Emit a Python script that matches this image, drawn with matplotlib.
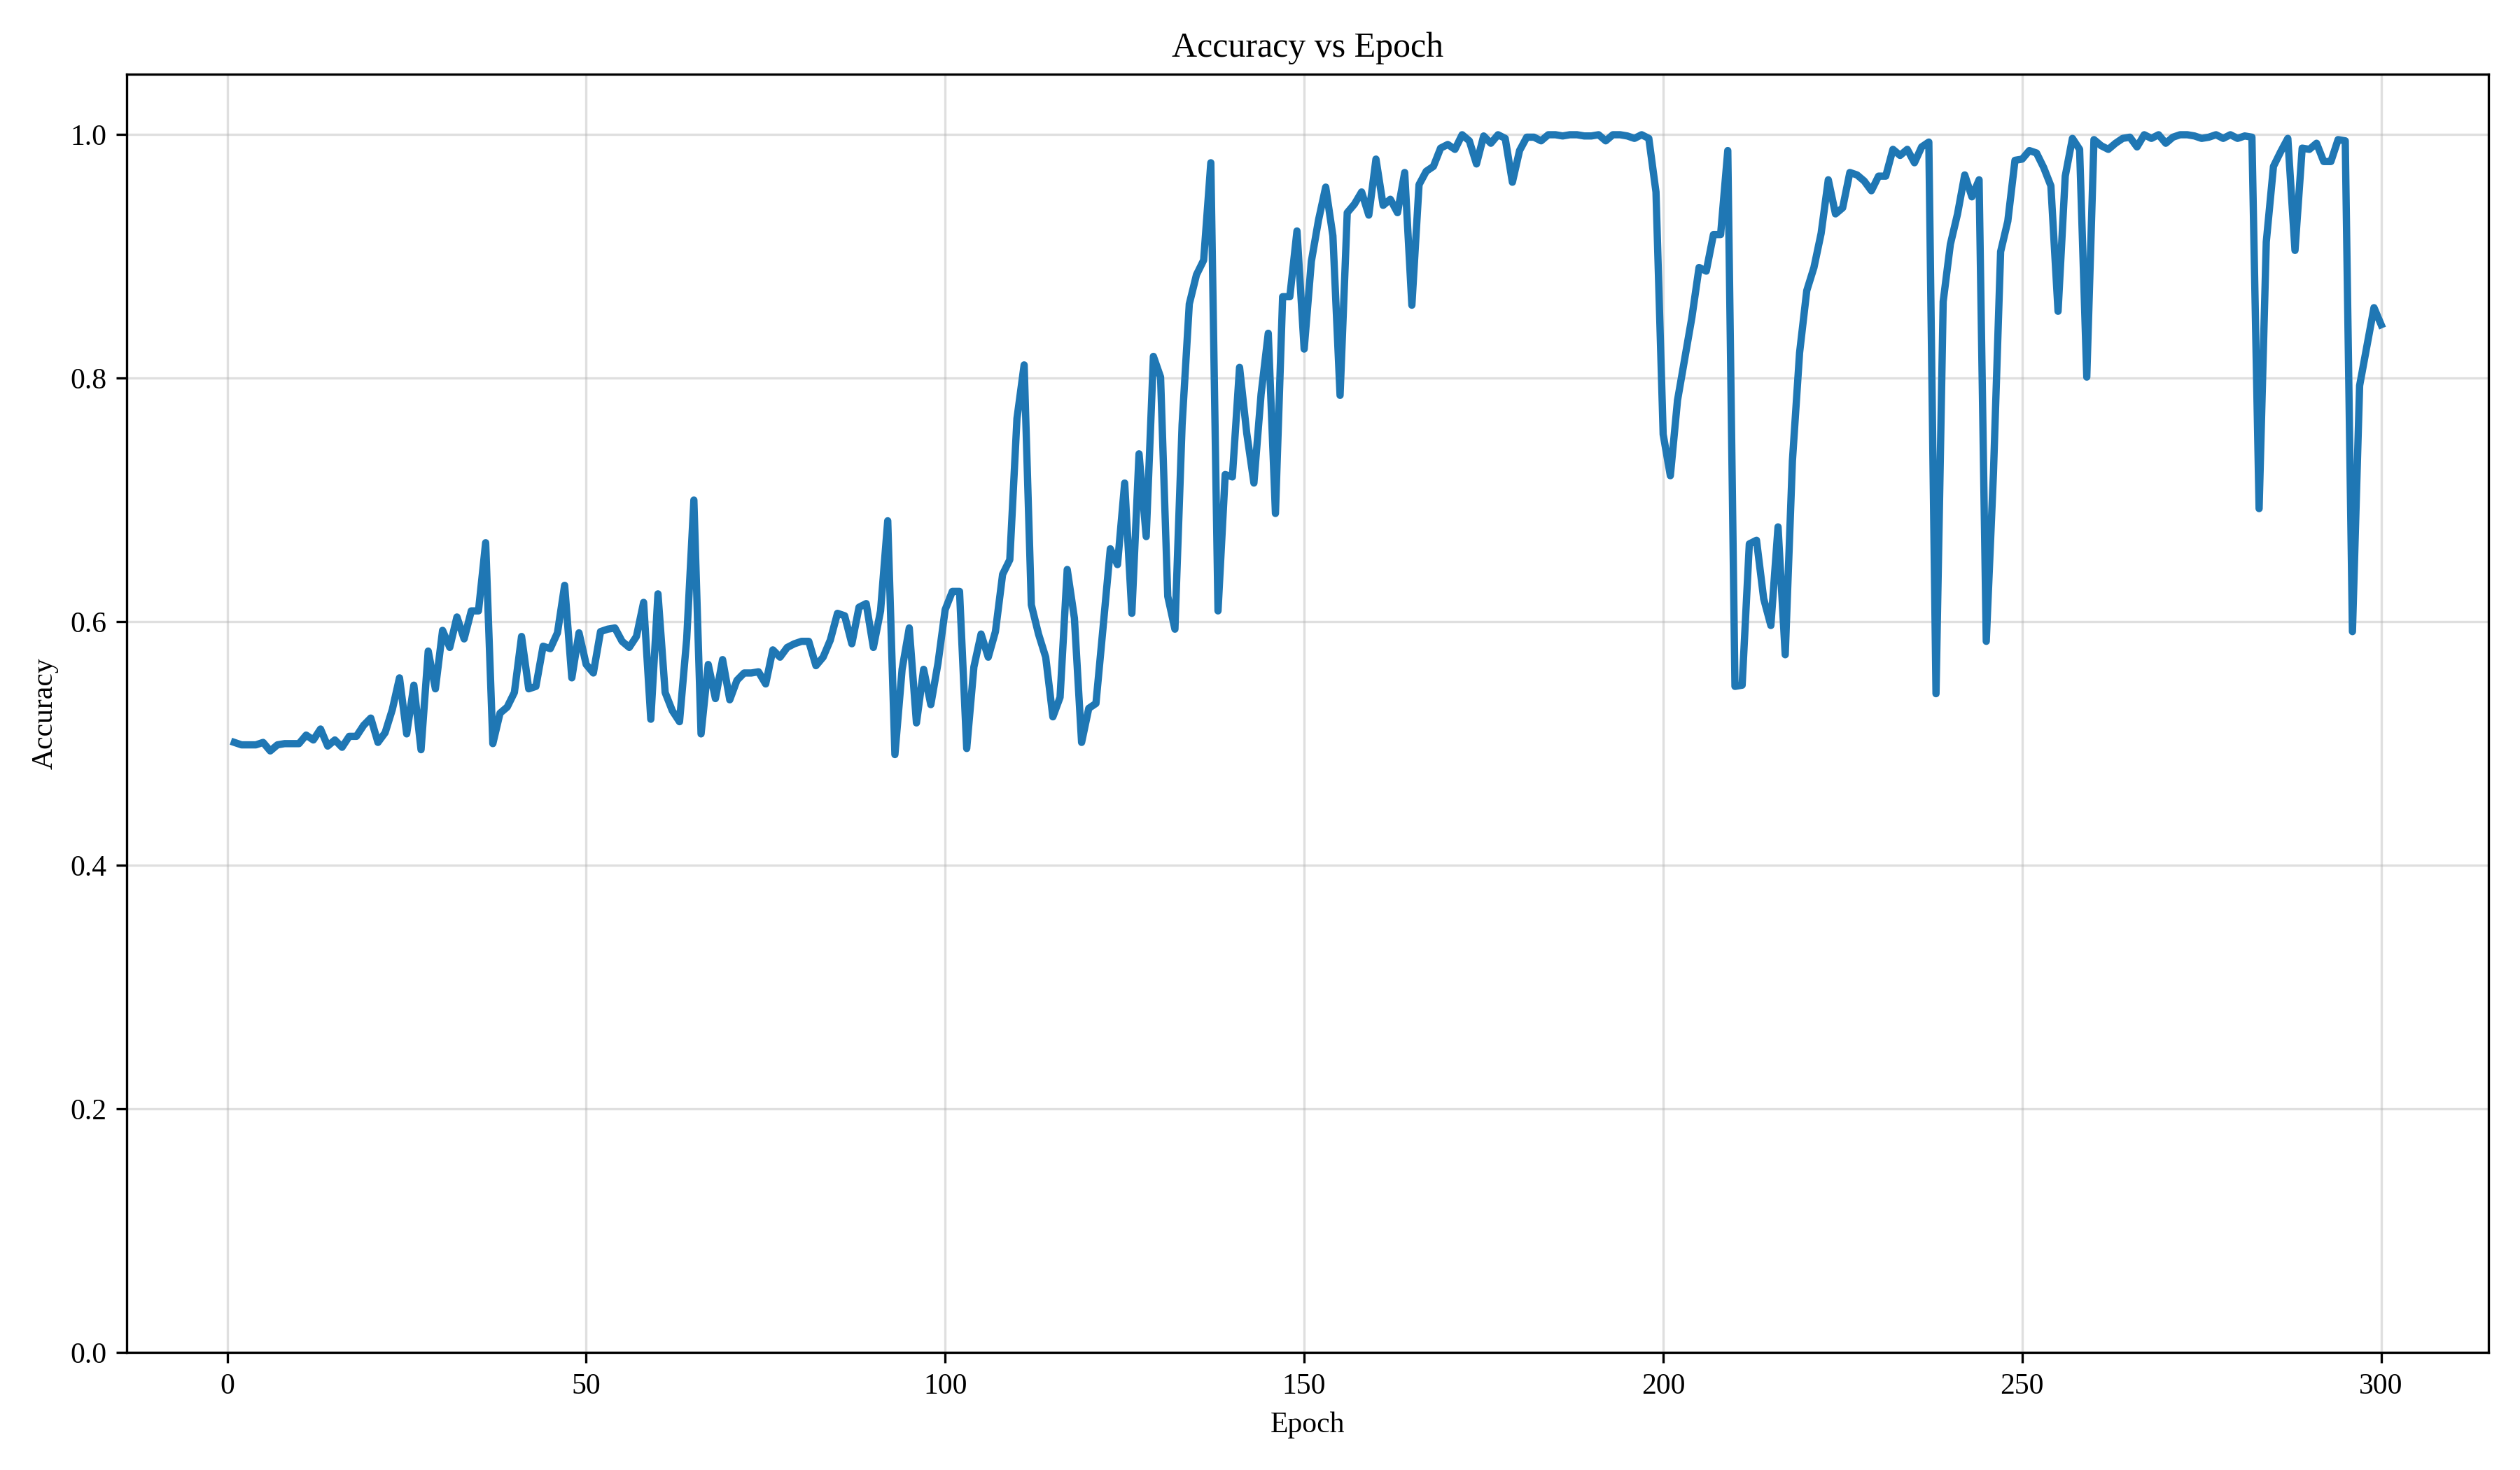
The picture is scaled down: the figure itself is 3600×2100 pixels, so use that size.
import matplotlib
matplotlib.use("Agg")
import matplotlib.pyplot as plt

plt.rcParams['font.family'] = ['Liberation Serif', 'DejaVu Serif']

epochs = list(range(1, 301))
accuracy = [
    0.501, 0.499, 0.499, 0.499, 0.501, 0.494, 0.499, 0.500, 0.500, 0.500,
    0.507, 0.503, 0.512, 0.498, 0.503, 0.497, 0.506, 0.506, 0.515, 0.521,
    0.501, 0.509, 0.528, 0.554, 0.508, 0.548, 0.495, 0.576, 0.545, 0.593,
    0.579, 0.604, 0.586, 0.609, 0.609, 0.665, 0.500, 0.525, 0.530, 0.542,
    0.588, 0.545, 0.547, 0.580, 0.578, 0.591, 0.630, 0.554, 0.591, 0.565,
    0.558, 0.592, 0.594, 0.595, 0.584, 0.579, 0.588, 0.616, 0.520, 0.623,
    0.542, 0.527, 0.518, 0.586, 0.700, 0.508, 0.565, 0.537, 0.569, 0.536,
    0.552, 0.558, 0.558, 0.559, 0.549, 0.577, 0.571, 0.579, 0.582, 0.584,
    0.584, 0.564, 0.571, 0.585, 0.607, 0.605, 0.582, 0.612, 0.615, 0.579,
    0.609, 0.683, 0.491, 0.561, 0.595, 0.517, 0.561, 0.532, 0.566, 0.610,
    0.625, 0.625, 0.496, 0.563, 0.590, 0.571, 0.592, 0.639, 0.651, 0.767,
    0.811, 0.614, 0.590, 0.571, 0.522, 0.538, 0.643, 0.603, 0.501, 0.529,
    0.533, 0.596, 0.660, 0.647, 0.714, 0.607, 0.738, 0.670, 0.818, 0.801,
    0.621, 0.594, 0.762, 0.861, 0.885, 0.897, 0.977, 0.609, 0.721, 0.719,
    0.809, 0.755, 0.714, 0.787, 0.837, 0.689, 0.867, 0.867, 0.921, 0.824,
    0.896, 0.930, 0.957, 0.917, 0.786, 0.936, 0.943, 0.953, 0.934, 0.980,
    0.942, 0.947, 0.936, 0.969, 0.860, 0.959, 0.970, 0.974, 0.989, 0.992,
    0.988, 1.000, 0.995, 0.976, 0.999, 0.993, 1.000, 0.997, 0.961, 0.987,
    0.998, 0.998, 0.995, 1.000, 1.000, 0.999, 1.000, 1.000, 0.999, 0.999,
    1.000, 0.995, 1.000, 1.000, 0.999, 0.997, 1.000, 0.997, 0.953, 0.754,
    0.720, 0.782, 0.816, 0.850, 0.891, 0.888, 0.918, 0.918, 0.987, 0.547,
    0.548, 0.664, 0.667, 0.619, 0.597, 0.678, 0.573, 0.732, 0.821, 0.872,
    0.891, 0.919, 0.963, 0.935, 0.940, 0.969, 0.967, 0.962, 0.954, 0.966,
    0.966, 0.988, 0.983, 0.988, 0.977, 0.990, 0.994, 0.541, 0.863, 0.910,
    0.935, 0.967, 0.949, 0.963, 0.584, 0.722, 0.904, 0.929, 0.979, 0.980,
    0.987, 0.985, 0.973, 0.958, 0.855, 0.966, 0.997, 0.988, 0.801, 0.996,
    0.991, 0.988, 0.993, 0.997, 0.998, 0.990, 1.000, 0.997, 1.000, 0.993,
    0.998, 1.000, 1.000, 0.999, 0.997, 0.998, 1.000, 0.997, 1.000, 0.997,
    0.999, 0.998, 0.693, 0.912, 0.974, 0.986, 0.997, 0.905, 0.989, 0.988,
    0.993, 0.978, 0.978, 0.996, 0.995, 0.592, 0.794, 0.826, 0.858, 0.844,
]

fig, ax = plt.subplots(figsize=(12, 7), dpi=300)
ax.plot(epochs, accuracy, color='#1f77b4', linewidth=2.5)
ax.set_title('Accuracy vs Epoch')
ax.set_xlabel('Epoch')
ax.set_ylabel('Accuracy')
ax.set_ylim(0, 1.05)
ax.grid(True, alpha=0.4)
fig.tight_layout()
fig.savefig('out.png', dpi=300)
